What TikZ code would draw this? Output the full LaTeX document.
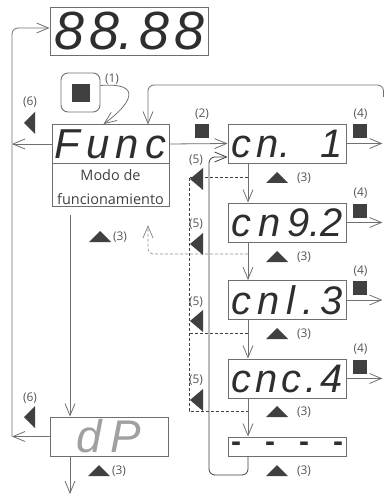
\documentclass[tikz,border=0pt]{standalone}
\usepackage{fontspec}
\setmainfont{Open Sans}
\newfontfamily\seg{Liberation Sans}
\usetikzlibrary{arrows.meta}
\definecolor{boxc}{HTML}{6E6E6E}
\definecolor{linec}{HTML}{707070}
\definecolor{darkc}{HTML}{404040}
\definecolor{segc}{HTML}{2E2E2E}
\definecolor{dimc}{HTML}{A0A0A0}
\definecolor{lblc}{HTML}{555555}
\begin{document}
\begin{tikzpicture}[x=1bp,y=-1bp,
  disp/.style={draw=boxc, line width=0.9bp, inner sep=0pt, minimum width=118bp, minimum height=39bp, text width=112bp, align=left, text=segc, font=\seg\itshape\fontsize{40}{40}\selectfont},
  conn/.style={draw=linec, line width=0.8bp},
  arr/.style={-{Straight Barb[length=12bp,width=10bp,line width=0.8bp]}},
  dsh/.style={draw=darkc, line width=0.7bp, dash pattern=on 3bp off 2bp},
  lbl/.style={text=lblc, font=\fontsize{12}{13}\selectfont, inner sep=0pt},
  sq/.style={fill=darkc, minimum size=14bp, inner sep=0pt},
  tri/.style={fill=darkc}]
\useasboundingbox (0,0) rectangle (384,497);

% top display
\node[disp, minimum width=158bp, minimum height=48bp, text width=150bp, font=\seg\itshape\fontsize{54}{54}\selectfont] (top) at (129,31) {8\hfill 8.\hfill 8\hfill 8};

% Func box
\node[disp, minimum width=117bp, font=\seg\itshape\fontsize{42}{42}\selectfont] (funcd) at (110.5,144) {F\hfill u\hfill n\hfill c};
\node[draw=boxc, line width=0.9bp, minimum width=117bp, minimum height=43bp, inner sep=0pt] (funct) at (110.5,184.5) {};
\node[text=darkc, font=\fontsize{14.5}{24}\selectfont, align=center, text depth=0pt, inner sep=0pt, anchor=south] (functxt) at (110.5,205) {Modo de\\funcionamiento};

% button (1)
\node[draw=boxc, line width=0.9bp, rounded corners=7bp, minimum size=39bp, inner sep=0pt] (btn) at (80.5,92.5) {};
\node[sq, minimum size=18bp] (btnsq) at (81,93.5) {};
\node[lbl] (l1) at (112,79) {(1)};
\draw[conn, arr] ([yshift=7bp]btn.east) .. controls (145,82) and (130,105) .. ([xshift=-7bp]funcd.north);

% channel displays
\node[disp] (cn1) at (287,143.5) {c\kern6bp n.\hfill 1};
\node[disp] (cn2) at (287,222.5) {c\hfill n\hfill 9.2};
\node[disp] (cn3) at (287,300) {c\hfill n\hfill l\hfill .\hfill 3};
\node[disp] (cn4) at (287,378.5) {c\hfill n\hfill c\hfill .\hfill 4};
\node[disp, minimum height=19bp, font=\seg\bfseries\fontsize{30}{30}\selectfont] (dash) at (287,446.5) {-\hfill -\hfill -\hfill -};

% dP display
\node[disp, font=\seg\itshape\fontsize{46}{46}\selectfont, align=center, text=dimc] (dp) at (109,436.5) {d\kern8bp P};

% coordinates
\coordinate (vx) at (248,0);
\coordinate (fx) at (70,215);
\coordinate (L1) at (12,144);
\coordinate (L2) at (12,436.5);
\coordinate (TR) at (383.5,97);
\coordinate (dx) at (189,0);

% left loop
\draw[conn, arr] (funcd.west) -- (L1);
\draw[conn, arr] (dp.west) -- (L2);
\draw[conn, arr, rounded corners=6bp] (L2) -- (12,28) -- ([yshift=3bp]top.west);

% top right loop into Func
\draw[conn, arr, rounded corners=6bp] (TR) -- (383.5,85) -- (148,85) -- (148,124.5);

% Func -> cn1
\draw[conn, arr] (funcd.east) -- (cn1.west);
\node[lbl] (l2) at (202,114) {(2)};
\node[sq] (s2) at (201.5,131.5) {};

% outputs (4)
\foreach \n in {cn1,cn2,cn3,cn4}{
  \coordinate (o\n) at ([xshift=36bp]\n.east);
  \draw[conn, arr] (\n.east) -- (o\n);
  \node[sq] at ([xshift=14bp,yshift=12bp]\n.east) {};
  \node[lbl] at ([xshift=14bp,yshift=29bp]\n.east) {(4)};
}

% vertical chain
\draw[conn, arr] (cn1.south -| vx) -- (cn2.north -| vx);
\draw[conn, arr] (cn2.south -| vx) -- (cn3.north -| vx);
\draw[conn, arr] (cn3.south -| vx) -- (cn4.north -| vx);
\draw[conn, arr] (cn4.south -| vx) -- (dash.north -| vx);

% return loop from dash box to cn1
\draw[conn, draw=darkc, arr, rounded corners=6bp] (dash.south -| vx) -- (248,475) -- (209,475) -- (209,157) -- ([yshift=-13.5bp]cn1.west);

% dashed paths
\draw[dsh] (248,177) -- (189,177) -- (189,411) -- (248,411);
\draw[dsh] (248,333) -- (189,333);
\draw[dsh, draw=linec!80, arr, rounded corners=5bp] (248,254) -- (148,254) -- (148,225);

% (5) triangles
\foreach \yc/\yl in {179/160, 244/224, 321/302, 400/380}{
  \fill[tri] (203,\yc-11) -- (190,\yc) -- (203,\yc+11) -- cycle;
  \node[lbl] at (196,\yl) {(5)};
}

% (6) triangles
\fill[tri] (35,112) -- (24,123) -- (35,134) -- cycle;
\node[lbl] (l6a) at (30,102) {(6)};
\fill[tri] (35,406) -- (24,417) -- (35,428) -- cycle;
\node[lbl] (l6b) at (30,398) {(6)};

% Func -> dP and dP down
\draw[conn, arr] (fx) -- (fx |- dp.north);
\coordinate (db) at (70,494);
\draw[conn, arr] (dp.south -| fx) -- (db);

% (3) triangles
\foreach \xc/\yb/\xl in {100/242/120, 99/476/119, 277/183/304, 277/262/304, 277/339/304, 277/417/304, 277/476/304}{
  \fill[tri] (\xc-11,\yb) -- (\xc,\yb-11) -- (\xc+11,\yb) -- cycle;
  \node[lbl] at (\xl,\yb-5) {(3)};
}
\end{tikzpicture}
\end{document}
